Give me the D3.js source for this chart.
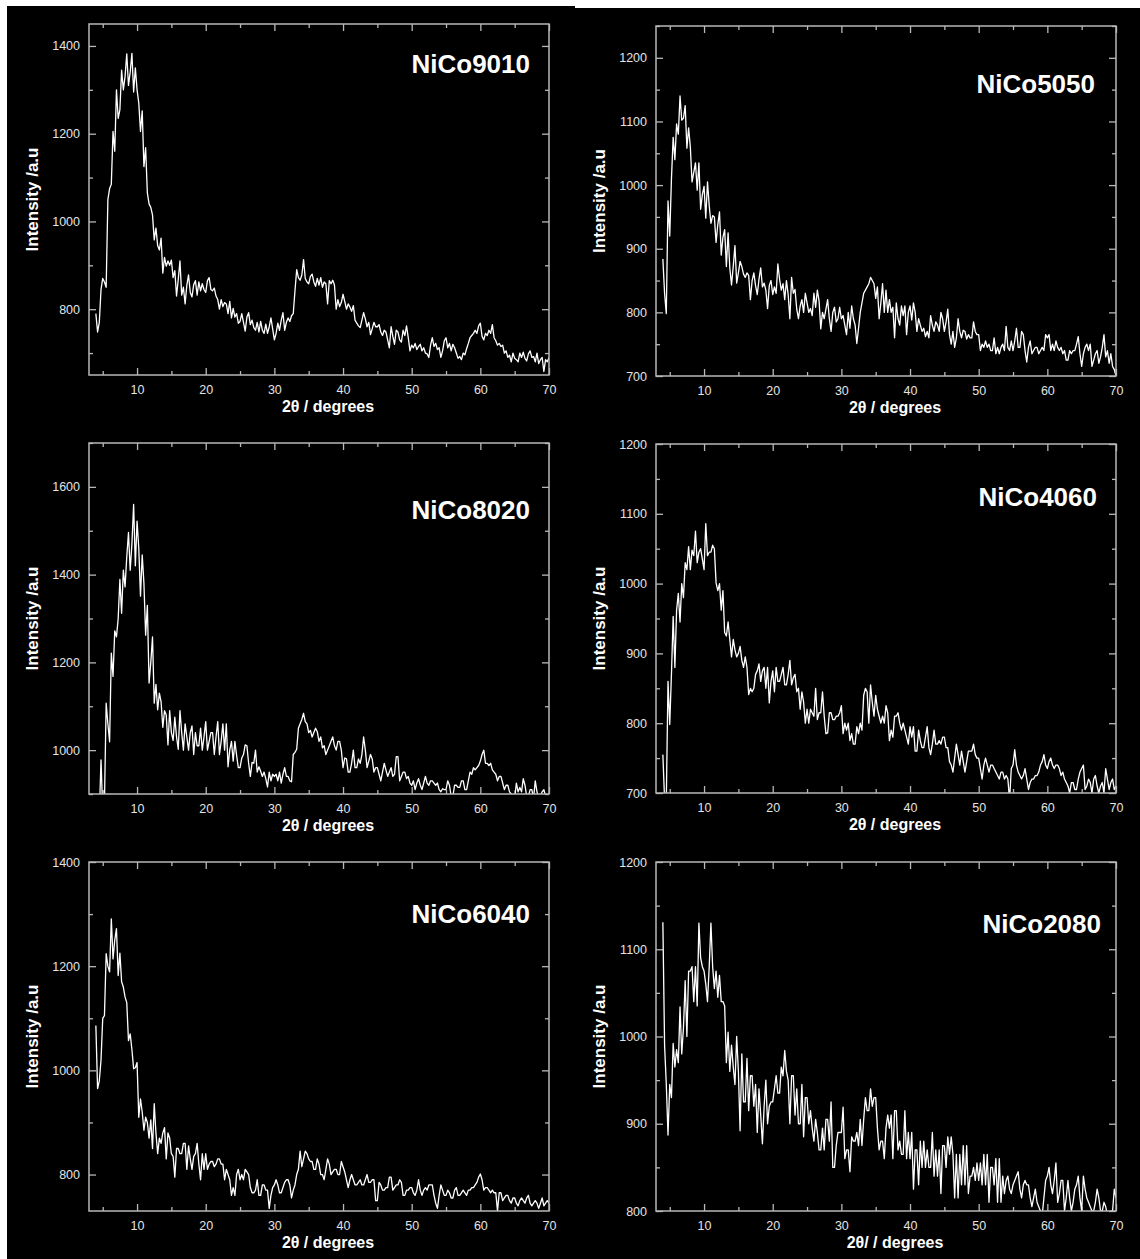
<!DOCTYPE html>
<html>
<head>
<meta charset="utf-8">
<script src="https://cdn.jsdelivr.net/npm/d3@7"></script>
<style>
  body { margin: 0; background: #fff; }
  svg { display: block; }
  text { font-family: "Liberation Sans", Arial, sans-serif; }
</style>
</head>
<body>
<svg id="chart" width="1140" height="1259"></svg>
<script>
// 2theta grid: first point at 4 deg, one reading every 0.25 deg up to 70
var xStart = 4, xStep = 0.25;
var xDomain = [3, 70];
var xMajor = [10, 20, 30, 40, 50, 60, 70];
var xMinor = [5, 15, 25, 35, 45, 55, 65];

var samples = ["NiCo9010", "NiCo5050", "NiCo8020", "NiCo4060", "NiCo6040", "NiCo2080"];
var xTitles = ["2θ / degrees", "2θ / degrees", "2θ / degrees", "2θ / degrees", "2θ / degrees", "2θ/ / degrees"];
var yTitle = "Intensity /a.u";

// y ranges and labelled ticks
var yDomains = [[650, 1450], [700, 1250], [900, 1700], [700, 1200], [730, 1400], [800, 1200]];
var yTicks = [
  [800, 1000, 1200, 1400],
  [700, 800, 900, 1000, 1100, 1200],
  [1000, 1200, 1400, 1600],
  [700, 800, 900, 1000, 1100, 1200],
  [800, 1000, 1200, 1400],
  [800, 900, 1000, 1100, 1200]
];
var yMinorStep = [100, 50, 100, 50, 100, 50];

// intensities, 4 readings per degree (x.00, x.25, x.50, x.75)
var nico9010 = [
  790,748,770,845, 870,862,850,1050, 1075,1085,1205,1160, 1300,1235,1255,1345,
  1300,1330,1382,1310, 1340,1383,1295,1350, 1300,1270,1205,1252, 1125,1168,1065,1040,
  1032,1015,958,985, 945,935,962,882, 918,898,910,900, 912,872,888,830,
  868,910,832,850, 812,855,878,838, 828,856,865,832, 862,842,858,845,
  838,865,872,845, 842,848,830,822, 800,822,806,815, 812,790,818,780,
  802,782,790,768, 772,790,770,750, 782,792,765,775, 758,752,770,748,
  772,752,745,766, 745,760,780,755, 730,745,768,752, 775,792,752,770,
  780,772,785,790, 842,890,872,866, 878,913,870,862, 858,875,880,862,
  852,870,855,872, 850,862,858,812, 865,858,866,855, 800,822,806,815,
  834,818,800,812, 805,795,808,775, 768,762,758,775, 792,778,760,770,
  742,755,770,760, 760,765,748,740, 752,748,730,712, 760,738,720,752,
  748,730,725,752, 740,762,735,705, 718,712,722,708, 715,720,705,712,
  700,698,690,718, 735,715,722,708, 712,690,705,728, 735,712,722,705,
  720,712,700,688, 692,685,700,696, 710,722,735,740, 745,752,745,762,
  768,738,730,745, 740,752,745,765, 735,728,718,722, 715,718,700,705,
  690,695,680,700, 688,685,680,700, 690,702,688,682, 698,705,690,692,
  680,700,676,685, 690,658,685,680, 690
];

var nico5050 = [
  884,830,798,975, 920,1010,1075,1040, 1096,1080,1140,1102, 1105,1125,1058,1090,
  1060,1005,1020,1035, 992,1035,962,985, 998,948,1005,968, 940,952,950,910,
  938,958,890,918, 930,872,925,870, 843,872,905,846, 862,880,872,860,
  855,862,858,820, 850,862,842,828, 852,870,840,846, 835,806,842,850,
  828,840,830,876, 852,835,845,820, 850,828,790,855, 830,836,805,790,
  810,820,800,830, 815,800,806,795, 830,808,835,818, 774,800,790,805,
  820,790,770,800, 808,785,790,808, 790,795,780,765, 800,775,810,790,
  780,751,775,800, 815,830,835,840, 845,855,850,845, 822,840,790,815,
  845,800,835,800, 820,800,808,760, 815,790,780,810, 795,810,765,800,
  810,788,815,800, 770,790,780,770, 775,762,770,760, 795,780,770,785,
  780,770,800,790, 770,785,805,765, 750,770,745,760, 790,770,760,772,
  770,758,765,760, 760,785,770,765, 765,740,750,745, 755,745,750,740,
  740,760,735,745, 735,745,750,740, 778,745,740,755, 740,755,775,745,
  745,770,765,740, 722,745,755,735, 740,745,745,735, 740,745,740,765,
  760,765,740,750, 740,755,745,740, 745,735,740,725, 725,740,735,740,
  740,750,762,735, 715,735,745,750, 740,750,715,725, 735,740,720,730,
  745,765,730,740, 720,735,715,710, 700
];

var nico8020 = [
  820,830,850,978, 860,880,1107,1060, 1019,1221,1168,1272, 1258,1300,1389,1312,
  1410,1372,1440,1496, 1410,1470,1560,1420, 1522,1460,1351,1445, 1380,1262,1330,1153,
  1200,1258,1107,1150, 1092,1130,1110,1052, 1090,1080,1012,1090, 1040,1022,1075,1030,
  1002,1090,1040,1000, 1060,1030,1000,1040, 1055,990,1040,1010, 1010,1050,1000,1030,
  1065,1000,1020,1040, 1040,990,1030,1065, 990,1020,1060,1000, 1060,962,1000,1020,
  975,1020,988,960, 960,982,990,1012, 1010,970,940,972, 970,1000,950,962,
  952,940,950,935, 916,950,930,945, 940,945,930,950, 925,945,960,940,
  940,930,928,990, 995,1002,1050,1060, 1070,1084,1065,1060, 1040,1045,1030,1040,
  1050,1042,1020,1030, 1005,1010,990,1000, 1010,1020,1030,1010, 1000,1020,1020,1000,
  960,982,980,950, 950,970,1000,960, 960,980,970,990, 1030,1000,960,975,
  990,980,950,960, 960,945,930,950, 970,955,940,950, 960,940,945,985,
  985,930,940,950, 950,935,940,925, 920,930,910,925, 935,920,910,925,
  940,925,920,930, 930,925,920,925, 910,905,912,910, 910,930,920,895,
  895,920,920,915, 915,930,930,910, 910,930,950,945, 960,955,960,965,
  975,990,1000,970, 970,965,970,955, 950,945,930,940, 940,925,910,920,
  920,905,900,890, 890,925,905,915, 905,935,920,895, 895,910,910,890,
  930,905,890,895, 905,910,895,890, 895
];

var nico4060 = [
  755,690,690,860, 798,870,953,880, 962,986,945,1000, 980,1030,1020,1053,
  1020,1048,1040,1075, 1030,1045,1050,1035, 1020,1086,1040,1045, 1045,1055,1050,1001,
  990,1000,962,990, 930,925,945,920, 895,920,905,895, 900,910,890,880,
  895,880,841,850, 845,850,870,875, 885,860,875,880, 850,880,829,860,
  875,845,880,860, 860,870,880,855, 855,870,890,855, 865,870,845,850,
  820,845,830,800, 820,800,820,815, 810,850,805,815, 815,845,810,785,
  786,815,815,805, 805,810,810,815, 825,785,800,790, 800,775,785,770,
  770,795,785,800, 790,840,850,845, 800,855,830,810, 840,820,810,800,
  810,800,825,815, 775,790,780,810, 810,815,800,790, 800,790,780,770,
  795,780,795,760, 760,790,775,765, 765,780,795,765, 755,770,790,770,
  770,775,770,780, 780,765,765,745, 740,730,750,770, 755,740,760,745,
  730,745,760,760, 760,770,755,750, 750,735,720,740, 750,740,730,740,
  740,735,730,725, 720,730,730,720, 725,720,690,735, 740,762,740,730,
  725,720,725,735, 720,705,715,720, 720,725,725,730, 740,745,755,740,
  735,745,750,740, 735,740,740,735, 725,730,720,715, 710,700,715,715,
  705,705,720,730, 735,740,705,710, 720,715,700,720, 725,710,700,710,
  715,700,735,720, 705,715,720,705, 710
];

var nico6040 = [
  1086,965,980,1020, 1100,1105,1224,1200, 1189,1291,1214,1250, 1272,1182,1225,1170,
  1160,1141,1130,1057, 1070,1040,1003,1005, 1015,910,945,920, 885,910,900,870,
  905,850,936,880, 840,870,860,880, 890,830,880,870, 840,835,795,850,
  850,840,840,860, 860,810,855,830, 810,835,840,860, 820,790,840,810,
  840,810,820,825, 825,815,820,830, 830,820,820,790, 810,800,790,760,
  775,760,800,810, 790,800,790,810, 805,800,775,765, 765,770,790,760,
  760,780,780,770, 770,735,760,775, 780,790,780,765, 765,775,785,790,
  790,780,755,770, 780,800,810,845, 815,830,845,840, 830,825,825,810,
  810,830,820,800, 800,790,810,830, 820,800,805,810, 810,800,800,825,
  815,805,790,775, 790,800,790,780, 780,785,790,780, 780,790,800,785,
  785,790,790,750, 750,785,780,770, 770,775,775,795, 795,770,775,780,
  780,790,785,760, 760,770,770,775, 775,765,760,770, 790,770,760,770,
  775,770,780,780, 780,760,745,735, 760,780,770,760, 760,770,765,755,
  755,770,775,760, 760,765,770,765, 760,770,770,775, 775,780,785,795,
  801,790,770,775, 775,770,765,770, 765,765,730,765, 765,750,755,760,
  760,750,745,755, 755,745,740,750, 755,750,745,755, 760,745,740,745,
  750,745,735,745, 755,740,745,750, 745
];

var nico2080 = [
  1131,990,945,887, 945,930,992,965, 985,970,1034,980, 1010,1064,1000,1075,
  1075,1080,1040,1080, 1035,1130,1090,1080, 1075,1060,1040,1080, 1130,1080,1055,1075,
  1045,1070,1040,1040, 1035,970,1005,960, 990,965,945,1000, 960,892,980,925,
  925,975,915,955, 955,920,945,890, 940,910,877,920, 950,900,920,925,
  925,940,955,935, 935,965,955,984, 960,950,900,955, 955,910,940,900,
  900,945,885,930, 930,900,915,895, 880,905,890,870, 870,895,870,905,
  905,880,925,850, 850,875,890,890, 890,919,860,870, 870,845,885,880,
  880,890,875,905, 875,905,930,915, 915,940,920,930, 930,895,870,880,
  880,860,895,910, 895,910,860,915, 915,870,880,865, 865,915,860,890,
  860,890,825,870, 870,830,880,850, 880,850,870,850, 850,890,840,870,
  840,870,820,875, 875,850,885,865, 885,865,815,865, 815,865,830,875,
  830,875,820,840, 840,850,835,855, 835,855,830,865, 830,865,810,850,
  850,830,860,810, 860,810,840,820, 835,840,825,820, 830,835,840,845,
  825,815,830,835, 830,830,815,805, 815,825,810,805, 800,795,815,835,
  840,850,830,820, 835,855,810,820, 835,835,800,815, 835,815,800,810,
  825,830,840,815, 800,840,825,815, 810,805,800,800, 810,825,815,800,
  800,810,805,795, 795,800,800,825, 815
];

var series = [nico9010, nico5050, nico8020, nico4060, nico6040, nico2080];

// frame boxes and sample-label placement per panel (pixels)
var layout = [
  {x0: 89,  x1: 549,  y0: 24,  y1: 375,  labelX: 530,  labelY: 73},
  {x0: 656, x1: 1116, y0: 26,  y1: 376,  labelX: 1095, labelY: 93},
  {x0: 89,  x1: 549,  y0: 443, y1: 794,  labelX: 530,  labelY: 519},
  {x0: 656, x1: 1116, y0: 444, y1: 793,  labelX: 1097, labelY: 506},
  {x0: 89,  x1: 549,  y0: 862, y1: 1211, labelX: 530,  labelY: 923},
  {x0: 656, x1: 1116, y0: 862, y1: 1211, labelX: 1101, labelY: 933}
];

var svg = d3.select("#chart");

// black backing sheets with a thin white margin, as in the scan
svg.append("rect").attr("x", 7).attr("y", 6).attr("width", 568).attr("height", 1253).attr("fill", "#000");
svg.append("rect").attr("x", 575).attr("y", 8).attr("width", 565).attr("height", 1251).attr("fill", "#000");

var frameColor = "#b8b8b8";

function styleAxis(g) {
  g.select(".domain").remove();
  g.selectAll(".tick line").attr("stroke", frameColor).attr("stroke-width", 1.3);
  g.selectAll(".tick text").attr("fill", "#e4e4e4").style("font-size", "12.5px")
    .style("font-family", "'Liberation Sans', Arial, sans-serif");
}

series.forEach(function(vals, i) {
  var p = layout[i];
  var x = d3.scaleLinear().domain(xDomain).range([p.x0, p.x1]);
  var y = d3.scaleLinear().domain(yDomains[i]).range([p.y1, p.y0]);
  var g = svg.append("g");

  var dom = yDomains[i];
  var yAll = d3.range(Math.ceil(dom[0] / yMinorStep[i]) * yMinorStep[i], dom[1] + 1, yMinorStep[i]);
  var yMinor = yAll.filter(function(v){ return yTicks[i].indexOf(v) < 0; });

  // bottom
  g.append("g").attr("transform", "translate(0," + p.y1 + ")")
    .call(d3.axisBottom(x).tickValues(xMajor).tickSize(-7).tickPadding(10).tickFormat(d3.format("d")))
    .call(styleAxis);
  g.append("g").attr("transform", "translate(0," + p.y1 + ")")
    .call(d3.axisBottom(x).tickValues(xMinor).tickSize(-4).tickFormat(""))
    .call(styleAxis);
  // top
  g.append("g").attr("transform", "translate(0," + p.y0 + ")")
    .call(d3.axisTop(x).tickValues(xMajor).tickSize(-7).tickFormat(""))
    .call(styleAxis);
  g.append("g").attr("transform", "translate(0," + p.y0 + ")")
    .call(d3.axisTop(x).tickValues(xMinor).tickSize(-4).tickFormat(""))
    .call(styleAxis);
  // left
  g.append("g").attr("transform", "translate(" + p.x0 + ",0)")
    .call(d3.axisLeft(y).tickValues(yTicks[i]).tickSize(-7).tickPadding(9).tickFormat(d3.format("d")))
    .call(styleAxis);
  g.append("g").attr("transform", "translate(" + p.x0 + ",0)")
    .call(d3.axisLeft(y).tickValues(yMinor).tickSize(-4).tickFormat(""))
    .call(styleAxis);
  // right
  g.append("g").attr("transform", "translate(" + p.x1 + ",0)")
    .call(d3.axisRight(y).tickValues(yTicks[i]).tickSize(-7).tickFormat(""))
    .call(styleAxis);
  g.append("g").attr("transform", "translate(" + p.x1 + ",0)")
    .call(d3.axisRight(y).tickValues(yMinor).tickSize(-4).tickFormat(""))
    .call(styleAxis);

  // trace, clipped to the frame
  svg.append("clipPath").attr("id", "clip" + i)
    .append("rect").attr("x", p.x0).attr("y", p.y0)
    .attr("width", p.x1 - p.x0).attr("height", p.y1 - p.y0);

  var line = d3.line()
    .x(function(d, j){ return x(xStart + j * xStep); })
    .y(function(d){ return y(d); });

  g.append("path")
    .datum(vals)
    .attr("clip-path", "url(#clip" + i + ")")
    .attr("d", line)
    .attr("fill", "none")
    .attr("stroke", "#fff")
    .attr("stroke-width", 1.3)
    .attr("stroke-linejoin", "round");

  g.append("rect")
    .attr("x", p.x0).attr("y", p.y0)
    .attr("width", p.x1 - p.x0).attr("height", p.y1 - p.y0)
    .attr("fill", "none").attr("stroke", frameColor).attr("stroke-width", 1.5);

  // titles
  g.append("text")
    .attr("x", (p.x0 + p.x1) / 2 + 9).attr("y", p.y1 + 37)
    .attr("text-anchor", "middle")
    .attr("fill", "#fff").style("font-size", "16px").style("font-weight", "bold")
    .text(xTitles[i]);

  g.append("text")
    .attr("transform", "translate(" + (p.x0 - 51) + "," + ((p.y0 + p.y1) / 2) + ") rotate(-90)")
    .attr("text-anchor", "middle")
    .attr("fill", "#fff").style("font-size", "17px").style("font-weight", "bold")
    .text(yTitle);

  g.append("text")
    .attr("x", p.labelX).attr("y", p.labelY)
    .attr("text-anchor", "end")
    .attr("fill", "#fff").style("font-size", "26px").style("font-weight", "bold")
    .text(samples[i]);
});
</script>
</body>
</html>
